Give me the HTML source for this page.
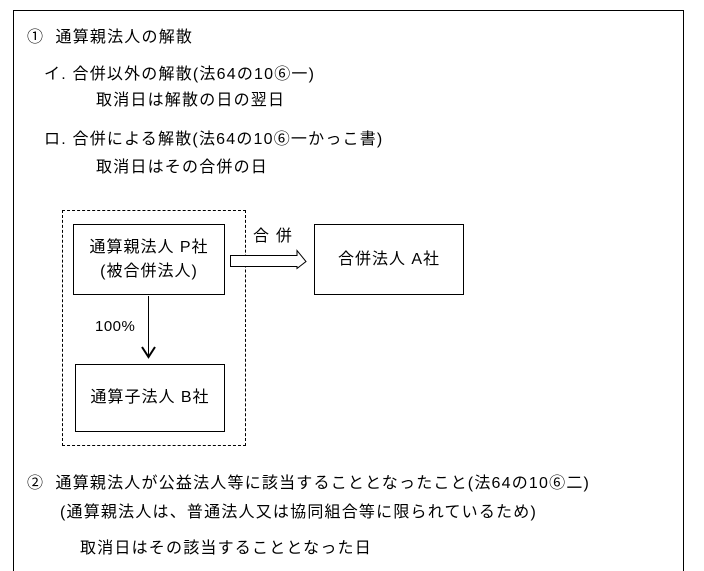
<!DOCTYPE html>
<html style="overflow:hidden;height:571px"><head><meta charset="utf-8"><style>
html,body{margin:0;overflow:hidden}
body{background:#fff;width:704px;height:571px;position:relative;font-family:"Liberation Sans","Noto Sans CJK JP",sans-serif;font-size:16px;color:#000;letter-spacing:1.2px}
.t{position:absolute;white-space:nowrap;line-height:18px}
.b{position:absolute;border:1px solid #000;box-sizing:border-box;display:flex;align-items:center;justify-content:center;text-align:center;font-size:16px;line-height:24px;letter-spacing:1px}
</style></head><body>
<div style="position:absolute;left:13px;top:10px;width:671px;height:570px;border:1px solid #000;border-bottom:none;box-sizing:border-box"></div>
<div class="t" style="left:27px;top:29px">①&nbsp; 通算親法人の解散</div>
<div class="t" style="left:44px;top:66px">イ.&nbsp;合併以外の解散(法64の10⑥一)</div>
<div class="t" style="left:96px;top:92px">取消日は解散の日の翌日</div>
<div class="t" style="left:44px;top:131px">ロ.&nbsp;合併による解散(法64の10⑥一かっこ書)</div>
<div class="t" style="left:96px;top:159px">取消日はその合併の日</div>
<div style="position:absolute;left:62px;top:210px;width:184px;height:236px;border:1px dashed #000;box-sizing:border-box"></div>
<div class="b" style="left:73px;top:224px;width:152px;height:71px">通算親法人 P社<br>(被合併法人)</div>
<div class="b" style="left:314px;top:224px;width:150px;height:71px">合併法人 A社</div>
<div class="b" style="left:75px;top:364px;width:150px;height:68px">通算子法人 B社</div>
<div class="t" style="left:253px;top:228px;font-size:16px">合 併</div>
<div class="t" style="left:95px;top:318px;font-size:15px;letter-spacing:0.5px">100%</div>
<svg style="position:absolute;left:0;top:0" width="704" height="571">
<path d="M230.5 255.5 H297 V250.5 L306 261.5 L297 268.5 V266.5 H230.5 Z" fill="#fff" stroke="#000"/>
<line x1="148.5" y1="296" x2="148.5" y2="357" stroke="#000"/>
<path d="M142 347 L148.5 357 L155 347" fill="none" stroke="#000" stroke-width="2"/>
</svg>
<div class="t" style="left:27px;top:475px">②&nbsp; 通算親法人が公益法人等に該当することとなったこと(法64の10⑥二)</div>
<div class="t" style="left:60px;top:504px">(通算親法人は、普通法人又は協同組合等に限られているため)</div>
<div class="t" style="left:80px;top:540px">取消日はその該当することとなった日</div>
</body></html>
